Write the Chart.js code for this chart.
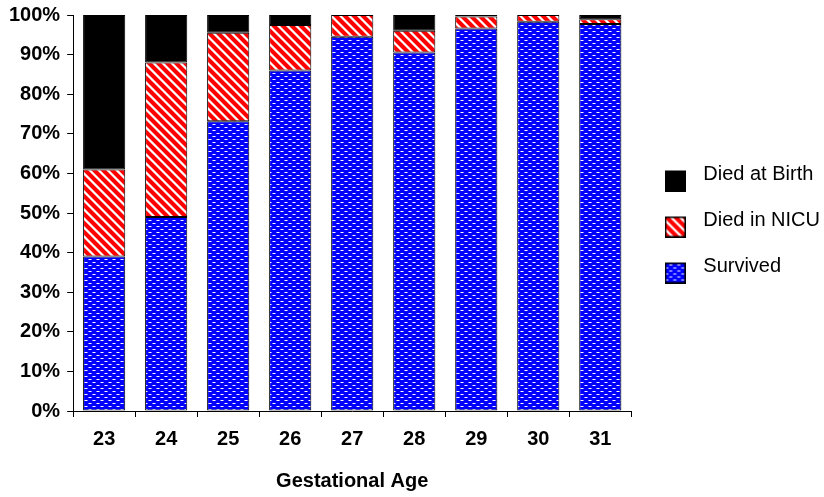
<!DOCTYPE html>
<html>
<head>
<meta charset="utf-8">
<script src="https://cdn.jsdelivr.net/npm/chart.js@4.4.1/dist/chart.umd.min.js"></script>
<style>
  html, body { margin: 0; padding: 0; background: #fff; }
  #wrap { width: 824px; height: 497px; }
</style>
</head>
<body>
<div id="wrap"><canvas id="grafico" width="824" height="497"></canvas></div>
<script>
const edades = ["23", "24", "25", "26", "27", "28", "29", "30", "31"];
const sobrevivio = [39, 49, 73.2, 86, 94.5, 90.5, 96.6, 98.3, 97.7];
const murioNicu = [22, 39, 22.3, 11.5, 5.5, 5.5, 3, 1.7, 1.2];
const murioParto = [39, 12, 4.5, 2.5, 0, 4, 0.4, 0, 1.1];
const marcasY = [0, 10, 20, 30, 40, 50, 60, 70, 80, 90, 100];

// patrones de relleno
function patronRayas() {
  const c = document.createElement("canvas");
  c.width = 9; c.height = 9;
  const g = c.getContext("2d");
  const img = g.createImageData(9, 9);
  for (let y = 0; y < 9; y++) {
    for (let x = 0; x < 9; x++) {
      const d = ((x - y) % 9 + 9) % 9;
      let col = [255, 0, 0];
      if (d === 0 || d === 1) col = [255, 255, 255];
      else if (d === 2 || d === 8) col = [255, 150, 150];
      const i = (y * 9 + x) * 4;
      img.data[i] = col[0]; img.data[i + 1] = col[1]; img.data[i + 2] = col[2]; img.data[i + 3] = 255;
    }
  }
  g.putImageData(img, 0, 0);
  return g.createPattern(c, "repeat");
}

function patronPuntos() {
  const c = document.createElement("canvas");
  c.width = 8; c.height = 6;
  const g = c.getContext("2d");
  g.fillStyle = "#0000ff";
  g.fillRect(0, 0, 8, 6);
  g.fillStyle = "#8080ff";
  g.fillRect(0, 1, 4, 1);
  g.fillRect(4, 4, 4, 1);
  g.fillStyle = "#ffffff";
  g.fillRect(1, 1, 2, 1);
  g.fillRect(5, 4, 2, 1);
  return g.createPattern(c, "repeat");
}

// cuadrito de leyenda (un poco más abajo que el texto)
function cuadrito(relleno) {
  const c = document.createElement("canvas");
  c.width = 21; c.height = 35;
  const g = c.getContext("2d");
  g.fillStyle = relleno;
  g.fillRect(0, 14, 21, 21);
  g.strokeStyle = "#000";
  g.lineWidth = 1.5;
  g.strokeRect(0.75, 14.75, 19.5, 19.5);
  return c;
}

const rellenos = [patronPuntos(), patronRayas(), "#000000"];

const ctx = document.getElementById("grafico").getContext("2d");
const familia = "Liberation Sans, Arial, sans-serif";
const fuenteTick = { family: familia, size: 20, weight: "bold" };
const fuenteY = { family: familia, size: 20, weight: "bold", lineHeight: 0.8 };

new Chart(ctx, {
  type: "bar",
  data: {
    labels: edades,
    datasets: [
      { label: "Survived", data: sobrevivio, backgroundColor: rellenos[0], pointStyle: cuadrito(rellenos[0]) },
      { label: "Died in NICU", data: murioNicu, backgroundColor: rellenos[1], pointStyle: cuadrito(rellenos[1]) },
      { label: "Died at Birth", data: murioParto, backgroundColor: rellenos[2], pointStyle: cuadrito(rellenos[2]) }
    ].map(d => Object.assign(d, {
      borderColor: "#000000",
      borderWidth: 1,
      borderSkipped: false,
      categoryPercentage: 1,
      barPercentage: 0.68
    }))
  },
  options: {
    responsive: false,
    animation: false,
    layout: { padding: { top: 0, right: -6, left: 2, bottom: 0 } },
    plugins: {
      tooltip: { enabled: false },
      legend: {
        position: "right",
        fullSize: false,
        reverse: true,
        title: { display: true, text: " ", color: "rgba(0,0,0,0)", font: { size: 10 }, padding: 1 },
        labels: {
          color: "#000",
          usePointStyle: true,
          pointStyleWidth: 36,
          boxHeight: 20,
          padding: 26,
          font: { family: familia, size: 20 }
        }
      }
    },
    scales: {
      x: {
        stacked: true,
        grid: { drawOnChartArea: false, tickLength: 6, color: "#000", offset: true },
        border: { color: "#000", width: 1 },
        ticks: { color: "#000", font: fuenteTick, padding: 10 },
        title: {
          display: true,
          text: "Gestational Age",
          color: "#000",
          font: fuenteTick,
          padding: { top: 8, bottom: 4 }
        }
      },
      y: {
        stacked: true,
        min: 0,
        max: 100,
        afterBuildTicks: axis => { axis.ticks = marcasY.map(v => ({ value: v })); },
        grid: { drawOnChartArea: false, tickLength: 6, color: "#000" },
        border: { color: "#000", width: 1 },
        ticks: { color: "#000", font: fuenteY, padding: 7, callback: v => v + "%" }
      }
    }
  }
});
</script>
</body>
</html>
